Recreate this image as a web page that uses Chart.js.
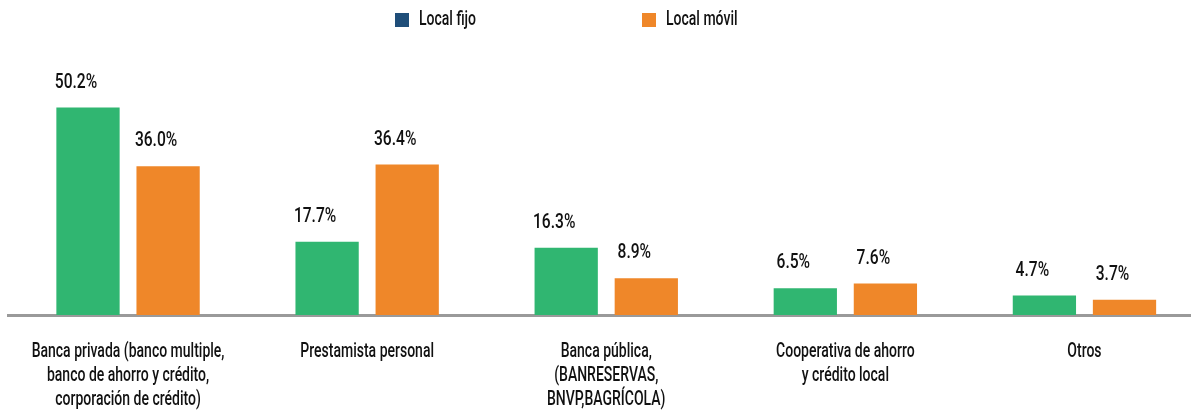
<!DOCTYPE html>
<html>
<head>
<meta charset="utf-8">
<script src="https://cdn.jsdelivr.net/npm/chart.js@4"></script>
<style>
  html, body { margin: 0; padding: 0; background: #fff; overflow: hidden; }
  #wrap { width: 1204px; height: 411px; }
</style>
</head>
<body>
<div id="wrap"><canvas id="chart"></canvas></div>
<script>
// categories, series and labels
const categories = [
  ['Banca privada (banco multiple,', 'banco de ahorro y crédito,', 'corporación de crédito)'],
  ['Prestamista personal'],
  ['Banca pública,', '(BANRESERVAS,', 'BNVP,BAGRÍCOLA)'],
  ['Cooperativa de ahorro', 'y crédito local'],
  ['Otros']
];
const localFijo = [50.2, 17.7, 16.3, 6.5, 4.7];
const localMovil = [36.0, 36.4, 8.9, 7.6, 3.7];
const seriesNames = ['Local fijo', 'Local móvil'];

// no condensed face installed, so text is squeezed horizontally
const FONT = '500 20px Roboto, "Liberation Sans", sans-serif';
const TEXT_SX = 0.7;
const NUM_SX = 0.78;
const green = '#30b671';
const orange = '#ef8729';
const legendColors = ['#1f4e79', orange];
const textColor = '#111';

function squeezeText(ctx, text, x, y, sx) {
  ctx.save();
  ctx.translate(x, y);
  ctx.scale(sx, 1);
  ctx.fillText(text, 0, 0);
  ctx.restore();
}

// value labels above the bars
const valueLabels = {
  id: 'valueLabels',
  afterDatasetsDraw(chart) {
    const ctx = chart.ctx;
    ctx.save();
    ctx.font = FONT;
    ctx.fillStyle = textColor;
    ctx.textAlign = 'center';
    ctx.textBaseline = 'middle';
    chart.data.datasets.forEach((ds, i) => {
      chart.getDatasetMeta(i).data.forEach((bar, j) => {
        squeezeText(ctx, ds.data[j].toFixed(1) + '%', bar.x - 12, bar.y - 25, NUM_SX);
      });
    });
    ctx.restore();
  }
};

// category labels under the axis
const categoryLabels = {
  id: 'categoryLabels',
  afterDraw(chart) {
    const ctx = chart.ctx;
    const xScale = chart.scales.x;
    ctx.save();
    ctx.font = FONT;
    ctx.fillStyle = textColor;
    ctx.textAlign = 'center';
    ctx.textBaseline = 'middle';
    categories.forEach((lines, i) => {
      const x = xScale.getPixelForValue(i);
      lines.forEach((line, k) => {
        squeezeText(ctx, line, x, xScale.top + 37 + k * 24, TEXT_SX);
      });
    });
    ctx.restore();
  }
};

// legend at the top
const topLegend = {
  id: 'topLegend',
  afterDraw(chart) {
    const ctx = chart.ctx;
    const xs = [395, 642];
    ctx.save();
    ctx.font = FONT;
    ctx.textAlign = 'left';
    ctx.textBaseline = 'middle';
    seriesNames.forEach((name, i) => {
      ctx.fillStyle = legendColors[i];
      ctx.fillRect(xs[i], 13, 14, 14);
      ctx.fillStyle = textColor;
      squeezeText(ctx, name, xs[i] + 24, 20, TEXT_SX);
    });
    ctx.restore();
  }
};

new Chart(document.getElementById('chart'), {
  type: 'bar',
  data: {
    labels: categories,
    datasets: [
      { label: seriesNames[0], data: localFijo, backgroundColor: green },
      { label: seriesNames[1], data: localMovil, backgroundColor: orange }
    ]
  },
  options: {
    responsive: true,
    maintainAspectRatio: false,
    animation: false,
    categoryPercentage: 0.67,
    barPercentage: 0.79,
    layout: { padding: { left: 8.5, right: 0, top: 67, bottom: 0 } },
    plugins: {
      legend: { display: false },
      tooltip: { enabled: false }
    },
    scales: {
      x: {
        grid: { display: false, drawTicks: false },
        border: { display: true, color: '#9a9a9a', width: 3 },
        ticks: { display: false },
        afterFit(scale) {
          scale.height = 96;
          scale.paddingLeft = 0;
          scale.paddingRight = 0;
        }
      },
      y: {
        display: false,
        min: 0,
        max: 60
      }
    }
  },
  plugins: [valueLabels, categoryLabels, topLegend]
});
</script>
</body>
</html>
